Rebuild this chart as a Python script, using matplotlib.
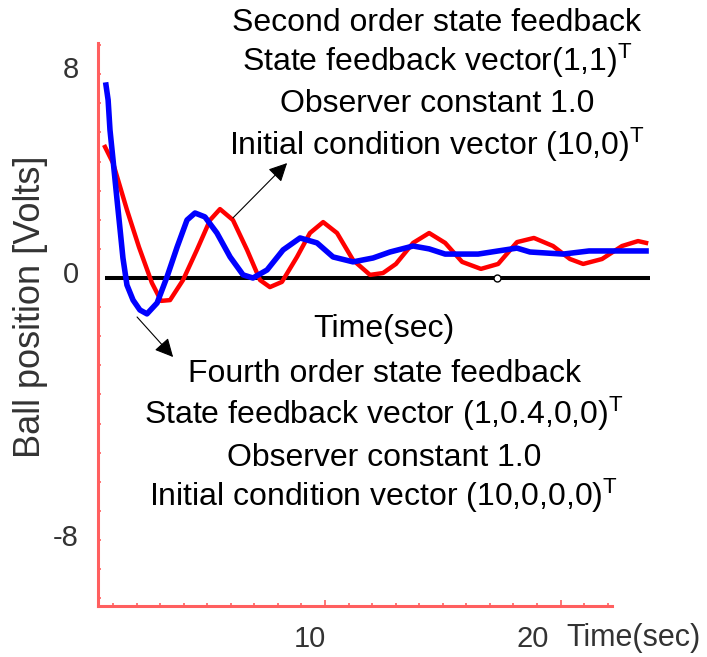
import numpy as np
import matplotlib
matplotlib.use("Agg")
import matplotlib.pyplot as plt
from matplotlib import font_manager as fm
from matplotlib.transforms import ScaledTranslation
from matplotlib.ticker import FixedLocator

# ---------------- data ----------------
# second order state feedback response (red)
red_t = [0.66, 1.00, 1.59, 2.10, 2.65, 3.04, 3.42, 3.97, 4.56, 5.12, 5.54, 6.09,
         6.69, 7.24, 7.66, 8.17, 8.81, 9.36, 9.92, 10.51, 11.19, 11.91, 12.46,
         13.01, 13.74, 14.42, 15.10, 15.82, 16.62, 17.35, 18.15, 18.87, 19.68,
         20.40, 20.96, 21.76, 22.61, 23.29, 23.63]
red_v = [5.04, 4.42, 2.62, 1.19, -0.19, -0.88, -0.85, -0.08, 1.08, 2.23, 2.65, 2.23,
         1.08, -0.08, -0.35, -0.15, 0.81, 1.73, 2.15, 1.73, 0.69, 0.12, 0.19,
         0.54, 1.35, 1.73, 1.35, 0.62, 0.35, 0.54, 1.38, 1.54, 1.23,
         0.73, 0.54, 0.73, 1.23, 1.42, 1.35]
# fourth order state feedback response (blue)
blue_t = [0.70, 0.79, 0.87, 1.00, 1.17, 1.30, 1.42, 1.59, 1.85, 2.14, 2.44, 2.87,
          3.29, 3.72, 4.14, 4.48, 4.90, 5.41, 5.97, 6.52, 6.94, 7.54, 8.22, 8.94,
          9.66, 10.34, 11.19, 12.04, 12.76, 13.74, 14.42, 15.10, 16.50, 17.35,
          18.15, 18.70, 20.11, 21.21, 23.63]
blue_v = [7.42, 6.85, 5.69, 4.54, 3.00, 1.85, 0.77, -0.27, -0.85, -1.23, -1.38, -0.96,
          0.04, 1.19, 2.23, 2.50, 2.35, 1.73, 0.81, 0.12, 0.00, 0.31, 1.08, 1.54,
          1.35, 0.81, 0.62, 0.77, 1.00, 1.23, 1.12, 0.92, 0.92, 1.04,
          1.15, 1.00, 0.92, 1.04, 1.04]
zero_t = [0.66, 23.8]
zero_v = [0.0, 0.0]
marker_t = [17.3]
marker_v = [0.0]

ytick_vals = [8, 0, -8]
ytick_labels = ["8", "0", "-8"]
xtick_vals = [10, 20]
xtick_labels = ["10", "20"]

top_lines = ["Second order state feedback",
             r"State feedback vector(1,1)$^{\mathrm{T}}$",
             "Observer constant 1.0",
             r"Initial condition vector (10,0)$^{\mathrm{T}}$"]
bottom_lines = ["Time(sec)",
                "Fourth order state feedback",
                r"State feedback vector (1,0.4,0,0)$^{\mathrm{T}}$",
                "Observer constant 1.0",
                r"Initial condition vector (10,0,0,0)$^{\mathrm{T}}$"]

# ---------------- fonts ----------------
names = {f.name for f in fm.fontManager.ttflist}
FONT = "Liberation Sans" if "Liberation Sans" in names else "DejaVu Sans"
plt.rcParams["font.family"] = [FONT, "DejaVu Sans"]
plt.rcParams["mathtext.fontset"] = "custom"
plt.rcParams["mathtext.rm"] = FONT
plt.rcParams["mathtext.it"] = FONT + ":italic"
plt.rcParams["mathtext.bf"] = FONT + ":bold"

W, H = 707, 657
fig = plt.figure(figsize=(W / 100, H / 100), dpi=100)
ax = fig.add_axes([98 / W, (H - 606) / H, (655 - 98) / W, (606 - 43) / H])
ax.set_xlim(0.361, 24.01)
ax.set_ylim(-12.615, 9.038)

spine_col = "#ff5f5f"
for s in ["top", "right"]:
    ax.spines[s].set_visible(False)
for s in ["left", "bottom"]:
    ax.spines[s].set_color(spine_col)
    ax.spines[s].set_linewidth(2.2)
ax.spines["bottom"].set_bounds(0.361, 22.19)

ax.plot(zero_t, zero_v, color="black", lw=2.9, solid_capstyle="butt", zorder=2)
ax.plot(red_t, red_v, color="#ff0000", lw=3.2, zorder=3)
ax.plot(blue_t, blue_v, color="#0000ff", lw=4.0, zorder=4)
ax.plot(marker_t, marker_v, "o", ms=5, mfc="white", mec="black", mew=1.0, zorder=5)

# ticks
ax.set_xticks(xtick_vals, xtick_labels)
ax.set_yticks(ytick_vals, ytick_labels)
ax.xaxis.set_minor_locator(FixedLocator(np.arange(1, 23)))
ax.yaxis.set_minor_locator(FixedLocator(np.arange(-11, 9) * 1.12))
ax.tick_params(axis="x", which="major", direction="in", length=4.5, width=1.2,
               color=spine_col, labelsize=21, labelcolor="#333333", pad=14)
ax.tick_params(axis="x", which="minor", direction="in", length=2.2, width=1.2,
               color=spine_col)
ax.tick_params(axis="y", which="major", direction="in", length=0,
               labelsize=21, labelcolor="#333333", pad=14)
ax.tick_params(axis="y", which="minor", direction="in", length=2.2, width=1.2,
               color=spine_col)

for lbl, dx in zip(ax.get_xticklabels(), [-15, -28]):
    lbl.set_transform(lbl.get_transform() + ScaledTranslation(dx / 100, 0, fig.dpi_scale_trans))
for lbl, dy in zip(ax.get_yticklabels(), [3, 6, -49]):
    lbl.set_transform(lbl.get_transform() + ScaledTranslation(0, dy / 100, fig.dpi_scale_trans))

ax.set_ylabel("Ball position [Volts]", fontsize=26, color="#333333")
ax.yaxis.set_label_coords(48 / W, (H - 307) / H, transform=fig.transFigure)

fig.text(566 / W, 1 - 646 / H, "Time(sec)", fontsize=22, color="#333333",
         ha="left", va="baseline")

# annotation texts
for line, yb in zip(top_lines, [31, 71, 112, 155]):
    fig.text(437 / W, 1 - yb / H, line, fontsize=23, ha="center", va="baseline")
for line, yb in zip(bottom_lines, [337, 382, 424, 466, 506]):
    fig.text(384 / W, 1 - yb / H, line, fontsize=23, ha="center", va="baseline")

# arrows
arrow_kw = dict(arrowstyle="-|>", color="black", lw=0.8, mutation_scale=28,
                shrinkA=0, shrinkB=0)
ax.annotate("", xy=(8.39, 4.42), xytext=(6.09, 2.31), arrowprops=arrow_kw)
ax.annotate("", xy=(3.55, -3.04), xytext=(2.02, -1.5), arrowprops=arrow_kw)

fig.savefig("out.png", dpi=100)
